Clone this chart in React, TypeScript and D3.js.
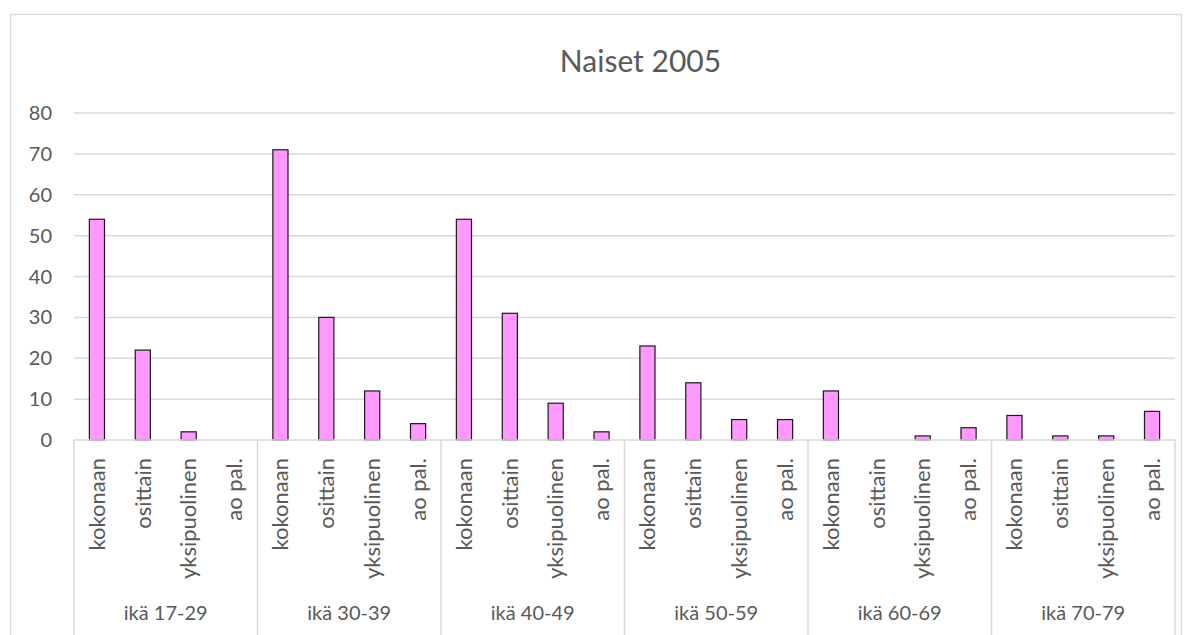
import { useRef, useEffect, type FC } from "react";
import * as d3 from "d3";

const groups = ["ikä 17-29", "ikä 30-39", "ikä 40-49", "ikä 50-59", "ikä 60-69", "ikä 70-79"];
const kinds = ["kokonaan", "osittain", "yksipuolinen", "ao pal."];
const kokonaan = [54, 71, 54, 23, 12, 6];
const osittain = [22, 30, 31, 14, 0, 1];
const yksipuolinen = [2, 12, 9, 5, 1, 1];
const aoPal = [0, 4, 2, 5, 3, 7];
const yTicks = [0, 10, 20, 30, 40, 50, 60, 70, 80];

const seriesByKind = [kokonaan, osittain, yksipuolinen, aoPal];

const App: FC = () => {
  const svgRef = useRef<SVGSVGElement>(null);

  useEffect(() => {
    const svg = d3.select(svgRef.current);
    const width = 1192;
    const height = 635;
    const plot = { left: 74, right: 1175, top: 113, bottom: 440 };
    const font = "Lato, 'Open Sans', sans-serif";
    const textColor = "#595959";
    const lineColor = "#d9d9d9";

    svg.selectAll("*").remove();
    svg.attr("width", width).attr("height", height);

    // flat list of bars
    const rows = groups.flatMap((g, gi) =>
      kinds.map((k, ki) => ({ key: `${gi}-${ki}`, group: g, kind: k, value: seriesByKind[ki][gi] }))
    );

    const x = d3
      .scaleBand<string>()
      .domain(rows.map((d) => d.key))
      .range([plot.left, plot.right])
      .paddingInner(0.67)
      .paddingOuter(0.335);

    const xCat = d3
      .scaleBand<string>()
      .domain(rows.map((d) => d.key))
      .range([plot.left, plot.right]);

    const xGroup = d3.scaleBand<string>().domain(groups).range([plot.left, plot.right]);

    const y = d3.scaleLinear().domain([0, 80]).range([plot.bottom, plot.top]);

    // chart frame
    svg
      .append("rect")
      .attr("x", 10.5)
      .attr("y", 14.5)
      .attr("width", 1171)
      .attr("height", 640)
      .attr("fill", "white")
      .attr("stroke", lineColor)
      .attr("stroke-width", 1.3);

    // title
    svg
      .append("text")
      .attr("x", (plot.left + plot.right) / 2 + 16)
      .attr("y", 72)
      .attr("text-anchor", "middle")
      .attr("font-family", font)
      .attr("font-size", "30px")
      .attr("fill", textColor)
      .text("Naiset 2005");

    // grid
    svg
      .append("g")
      .selectAll("line")
      .data(yTicks.filter((t) => t > 0))
      .join("line")
      .attr("x1", plot.left)
      .attr("x2", plot.right)
      .attr("y1", (d) => y(d))
      .attr("y2", (d) => y(d))
      .attr("stroke", lineColor)
      .attr("stroke-width", 1.5);

    // y labels
    svg
      .append("g")
      .selectAll("text")
      .data(yTicks)
      .join("text")
      .attr("x", 52)
      .attr("y", (d) => y(d))
      .attr("dy", "0.35em")
      .attr("text-anchor", "end")
      .attr("font-family", font)
      .attr("font-size", "20px")
      .attr("fill", textColor)
      .text((d) => d);

    // bars
    svg
      .append("g")
      .selectAll("rect")
      .data(rows)
      .join("rect")
      .attr("x", (d) => x(d.key)!)
      .attr("y", (d) => y(d.value))
      .attr("width", x.bandwidth())
      .attr("height", (d) => y(0) - y(d.value))
      .attr("fill", "#ff99ff")
      .attr("stroke", "#1a1a1a")
      .attr("stroke-width", 1.2);

    // category axis
    const axis = svg.append("g");
    axis
      .append("line")
      .attr("x1", plot.left)
      .attr("x2", plot.right)
      .attr("y1", plot.bottom)
      .attr("y2", plot.bottom)
      .attr("stroke", lineColor)
      .attr("stroke-width", 1.5);

    const seps = [...groups.map((g) => xGroup(g)!), plot.right];
    axis
      .selectAll("line.sep")
      .data(seps)
      .join("line")
      .attr("class", "sep")
      .attr("x1", (d) => d)
      .attr("x2", (d) => d)
      .attr("y1", plot.bottom)
      .attr("y2", height)
      .attr("stroke", lineColor)
      .attr("stroke-width", 1.5);

    axis
      .selectAll("text.kind")
      .data(rows)
      .join("text")
      .attr("class", "kind")
      .attr("transform", (d) => `translate(${xCat(d.key)! + xCat.bandwidth() / 2},458) rotate(-90)`)
      .attr("dy", "0.35em")
      .attr("text-anchor", "end")
      .attr("font-family", font)
      .attr("font-size", "22px")
      .attr("fill", textColor)
      .text((d) => d.kind);

    axis
      .selectAll("text.group")
      .data(groups)
      .join("text")
      .attr("class", "group")
      .attr("x", (d) => xGroup(d)! + xGroup.bandwidth() / 2)
      .attr("y", 620)
      .attr("text-anchor", "middle")
      .attr("font-family", font)
      .attr("font-size", "20px")
      .attr("fill", textColor)
      .text((d) => d);
  }, []);

  return (
    <svg
      ref={svgRef}
      style={{ position: "absolute", left: 0, top: 0, display: "block" }}
    ></svg>
  );
};

export default App;
